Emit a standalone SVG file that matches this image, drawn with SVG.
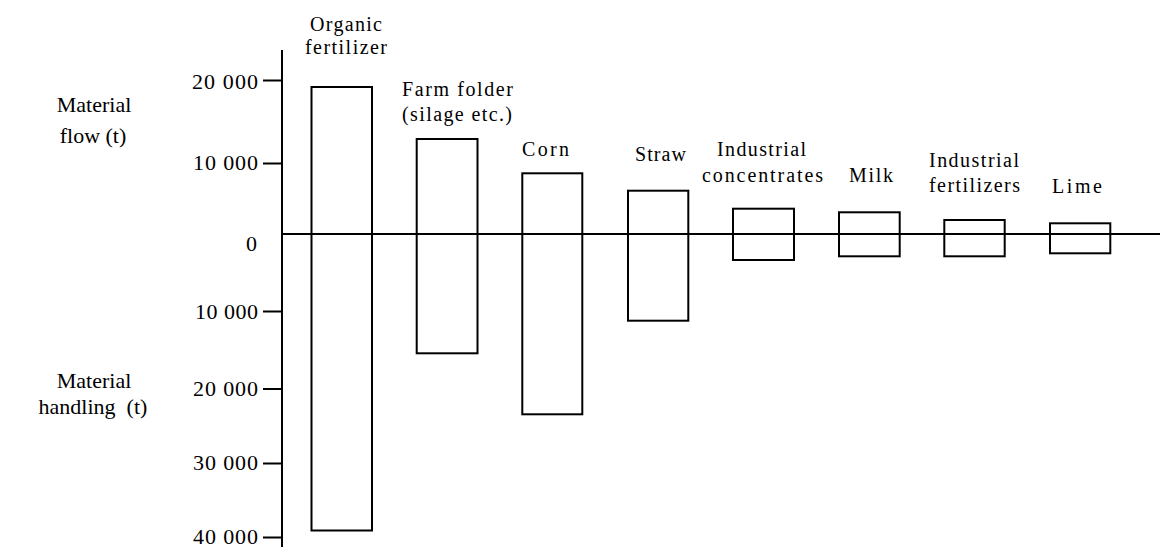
<svg xmlns="http://www.w3.org/2000/svg" width="1160" height="547" viewBox="0 0 1160 547">
<style>
.lab{font-family:"Liberation Serif",serif;font-size:20px;fill:#000}
.big{font-family:"Liberation Serif",serif;font-size:22px;fill:#000;text-anchor:middle}
.tick{font-family:"Liberation Serif",serif;font-size:22px;text-anchor:end;fill:#000}
.bar{fill:none;stroke:#000;stroke-width:2}
.ax{stroke:#000;stroke-width:2;fill:none}
</style>
<rect width="1160" height="547" fill="#fff"/>
<g id="axis-labels">
<text class="big" x="94" y="112">Material</text>
<text class="big" x="93" y="143">flow (t)</text>
<text class="big" x="94" y="388">Material</text>
<text class="big" x="93" y="414" xml:space="preserve">handling  (t)</text>
</g>
<g id="ticks">
<text class="tick" x="258" y="89" textLength="66" lengthAdjust="spacing">20 000</text>
<text class="tick" x="258" y="170" textLength="65" lengthAdjust="spacing">10 000</text>
<text class="tick" x="257" y="251">0</text>
<text class="tick" x="258" y="319" textLength="63" lengthAdjust="spacing">10 000</text>
<text class="tick" x="258" y="396" textLength="65" lengthAdjust="spacing">20 000</text>
<text class="tick" x="258" y="470" textLength="65" lengthAdjust="spacing">30 000</text>
<text class="tick" x="258" y="544" textLength="65" lengthAdjust="spacing">40 000</text>
</g>
<g id="axes">
<line class="ax" x1="282" y1="50" x2="282" y2="547"/>
<line class="ax" x1="282" y1="234" x2="1160" y2="234"/>
<line class="ax" x1="263" y1="80.5" x2="282" y2="80.5"/>
<line class="ax" x1="263" y1="163.5" x2="282" y2="163.5"/>
<line class="ax" x1="263" y1="311.5" x2="282" y2="311.5"/>
<line class="ax" x1="263" y1="389" x2="282" y2="389"/>
<line class="ax" x1="263" y1="463.5" x2="282" y2="463.5"/>
<line class="ax" x1="263" y1="537.5" x2="282" y2="537.5"/>
</g>
<g id="organic-fertilizer">
<rect class="bar" x="311.5" y="87" width="60.5" height="443.5"/>
<text class="lab" x="310" y="31" textLength="72" lengthAdjust="spacing">Organic</text>
<text class="lab" x="305" y="54" textLength="82" lengthAdjust="spacing">fertilizer</text>
</g>
<g id="farm-folder">
<rect class="bar" x="416.7" y="139" width="60.8" height="214.3"/>
<text class="lab" x="402" y="96" textLength="111" lengthAdjust="spacing">Farm folder</text>
<text class="lab" x="402" y="121" textLength="110" lengthAdjust="spacing">(silage etc.)</text>
</g>
<g id="corn">
<rect class="bar" x="522.3" y="173.3" width="60" height="241"/>
<text class="lab" x="522" y="156" textLength="47" lengthAdjust="spacing">Corn</text>
</g>
<g id="straw">
<rect class="bar" x="628" y="190.7" width="60.3" height="130"/>
<text class="lab" x="635" y="161" textLength="51" lengthAdjust="spacing">Straw</text>
</g>
<g id="industrial-concentrates">
<rect class="bar" x="733" y="208.7" width="61" height="51.3"/>
<text class="lab" x="717" y="156" textLength="89" lengthAdjust="spacing">Industrial</text>
<text class="lab" x="702" y="182" textLength="121" lengthAdjust="spacing">concentrates</text>
</g>
<g id="milk">
<rect class="bar" x="839" y="212.3" width="60.7" height="44"/>
<text class="lab" x="849" y="182" textLength="44" lengthAdjust="spacing">Milk</text>
</g>
<g id="industrial-fertilizers">
<rect class="bar" x="944.3" y="220" width="60.4" height="36.3"/>
<text class="lab" x="929" y="167" textLength="90" lengthAdjust="spacing">Industrial</text>
<text class="lab" x="929" y="192" textLength="91" lengthAdjust="spacing">fertilizers</text>
</g>
<g id="lime">
<rect class="bar" x="1050" y="223.3" width="60.3" height="30"/>
<text class="lab" x="1052" y="193" textLength="50" lengthAdjust="spacing">Lime</text>
</g>
</svg>
